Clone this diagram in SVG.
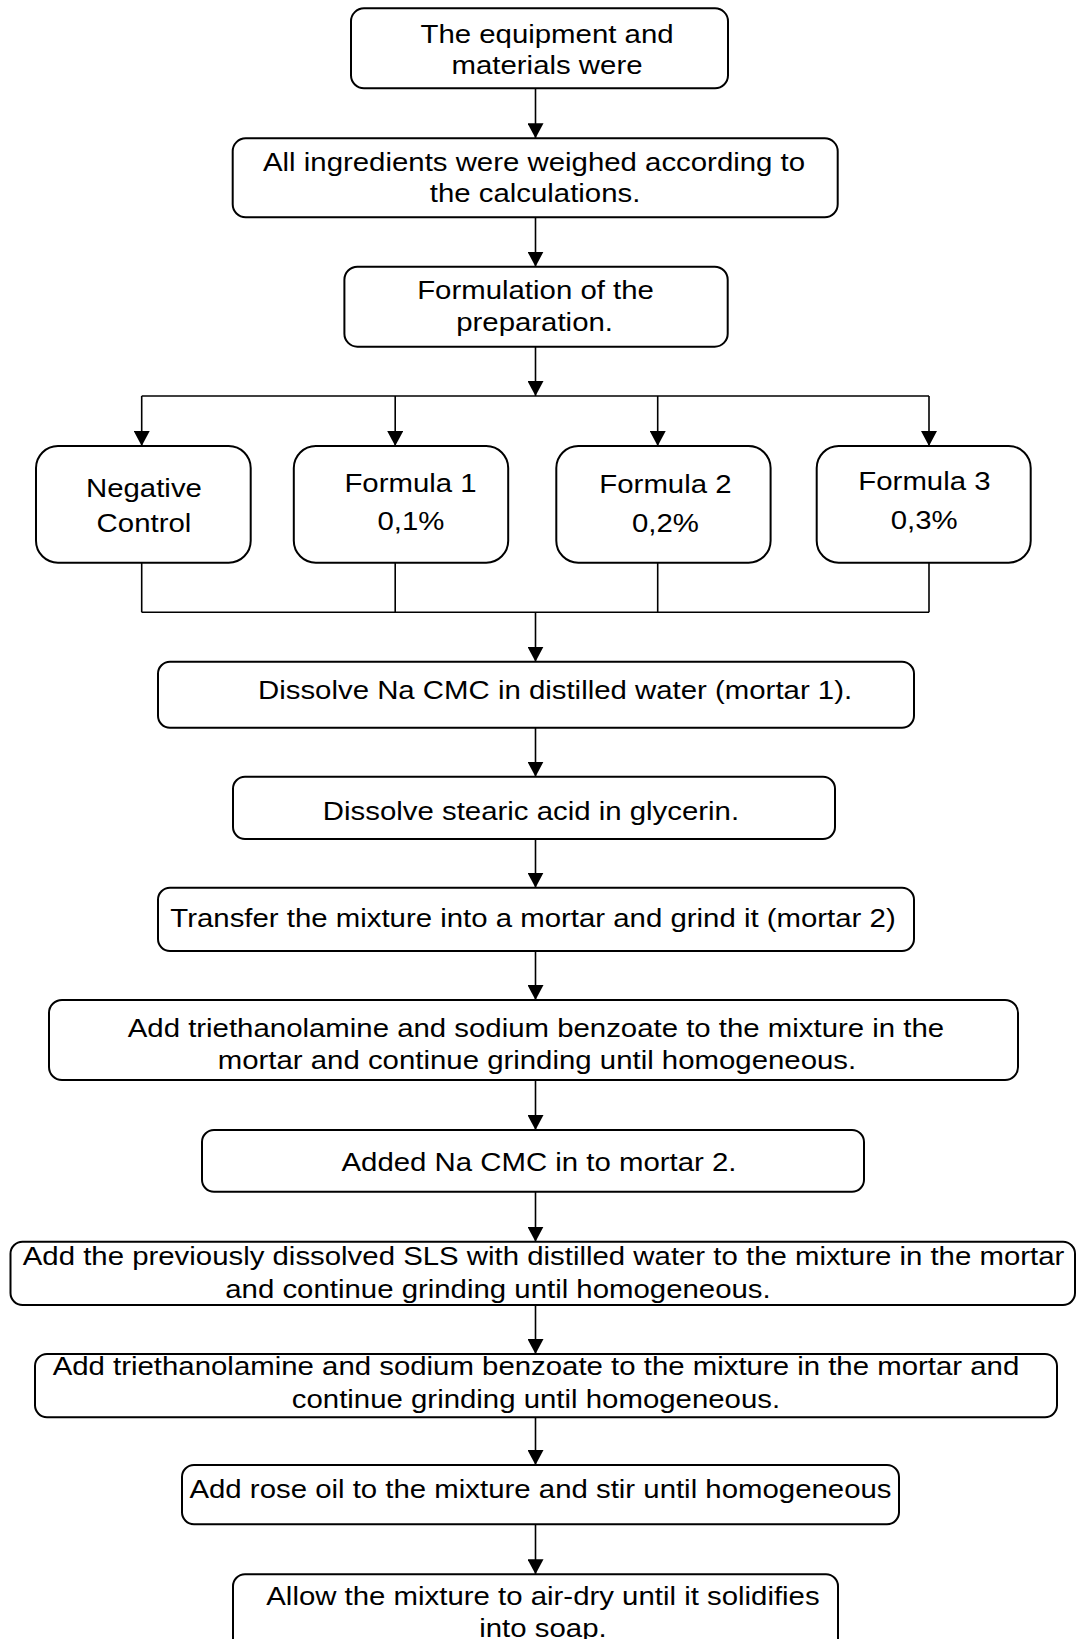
<svg xmlns="http://www.w3.org/2000/svg" width="1077" height="1639" viewBox="0 0 1077 1639">
<style>
.box{fill:#fff;stroke:#000;stroke-width:2}
.t{font-family:"Liberation Sans",Arial,sans-serif;font-size:26px;fill:#000;text-anchor:middle}
.c{fill:none;stroke:#000;stroke-width:1.6}
.a{fill:none;stroke:#000;stroke-width:1.6;marker-end:url(#ah)}
</style>
<defs>
<marker id="ah" markerUnits="userSpaceOnUse" markerWidth="16" markerHeight="16" viewBox="0 0 16 16" refX="15" refY="8" orient="auto">
<path d="M0,0 L15,8 L0,16 z" fill="#000"/>
</marker>
</defs>
<rect width="1077" height="1639" fill="#fff"/>
<g id="connectors">
<line class="a" x1="535.5" y1="88.3" x2="535.5" y2="138.3"/>
<line class="a" x1="535.5" y1="217.3" x2="535.5" y2="266.7"/>
<line class="a" x1="535.5" y1="346.7" x2="535.5" y2="396"/>
<line class="c" x1="141.7" y1="396" x2="929" y2="396"/>
<line class="a" x1="141.7" y1="396" x2="141.7" y2="446"/>
<line class="a" x1="395.2" y1="396" x2="395.2" y2="446"/>
<line class="a" x1="657.7" y1="396" x2="657.7" y2="446"/>
<line class="a" x1="929" y1="396" x2="929" y2="446"/>
<line class="c" x1="141.7" y1="562.7" x2="141.7" y2="612.3"/>
<line class="c" x1="395.2" y1="562.7" x2="395.2" y2="612.3"/>
<line class="c" x1="657.7" y1="562.7" x2="657.7" y2="612.3"/>
<line class="c" x1="929" y1="562.7" x2="929" y2="612.3"/>
<line class="c" x1="141.7" y1="612.3" x2="929" y2="612.3"/>
<line class="a" x1="535.5" y1="612.3" x2="535.5" y2="661.7"/>
<line class="a" x1="535.5" y1="727.7" x2="535.5" y2="776.7"/>
<line class="a" x1="535.5" y1="839" x2="535.5" y2="887.7"/>
<line class="a" x1="535.5" y1="951" x2="535.5" y2="1000"/>
<line class="a" x1="535.5" y1="1080" x2="535.5" y2="1130"/>
<line class="a" x1="535.5" y1="1191.7" x2="535.5" y2="1241.7"/>
<line class="a" x1="535.5" y1="1305" x2="535.5" y2="1354"/>
<line class="a" x1="535.5" y1="1417.3" x2="535.5" y2="1465"/>
<line class="a" x1="535.5" y1="1524.3" x2="535.5" y2="1574.3"/>
</g>
<g id="n1"><rect class="box" x="351" y="8.3" width="377" height="80" rx="13"/>
<g transform="scale(1.13 1)"><text class="t" x="484.1" y="42.7">The equipment and</text><text class="t" x="484.1" y="74">materials were</text></g></g>
<g id="n2"><rect class="box" x="232.7" y="138.3" width="605" height="79" rx="13"/>
<g transform="scale(1.13 1)"><text class="t" x="472.6" y="171.5">All ingredients were weighed according to</text><text class="t" x="473.5" y="202.5">the calculations.</text></g></g>
<g id="n3"><rect class="box" x="344.4" y="266.7" width="383.3" height="80" rx="13"/>
<g transform="scale(1.13 1)"><text class="t" x="473.9" y="299.3">Formulation of the</text><text class="t" x="473.1" y="331.5">preparation.</text></g></g>
<g id="n4"><rect class="box" x="36" y="446" width="214.7" height="116.7" rx="22"/>
<g transform="scale(1.13 1)"><text class="t" x="127.4" y="497.3">Negative</text><text class="t" x="127.4" y="531.7">Control</text></g></g>
<g id="n5"><rect class="box" x="293.8" y="446" width="214.4" height="116.7" rx="22"/>
<g transform="scale(1.13 1)"><text class="t" x="363.3" y="491.7">Formula 1</text><text class="t" x="363.7" y="530">0,1%</text></g></g>
<g id="n6"><rect class="box" x="556.3" y="446" width="214.3" height="116.7" rx="22"/>
<g transform="scale(1.13 1)"><text class="t" x="588.9" y="493.3">Formula 2</text><text class="t" x="588.9" y="531.7">0,2%</text></g></g>
<g id="n7"><rect class="box" x="816.7" y="446" width="214" height="116.7" rx="22"/>
<g transform="scale(1.13 1)"><text class="t" x="818.1" y="490">Formula 3</text><text class="t" x="817.9" y="529.3">0,3%</text></g></g>
<g id="n8"><rect class="box" x="158" y="661.7" width="756" height="66" rx="12"/>
<g transform="scale(1.13 1)"><text class="t" x="491.2" y="699.3">Dissolve Na CMC in distilled water (mortar 1).</text></g></g>
<g id="n9"><rect class="box" x="233" y="776.7" width="602" height="62.3" rx="12"/>
<g transform="scale(1.13 1)"><text class="t" x="469.9" y="820">Dissolve stearic acid in glycerin.</text></g></g>
<g id="n10"><rect class="box" x="158" y="887.7" width="756" height="63.3" rx="12"/>
<g transform="scale(1.13 1)"><text class="t" x="471.7" y="927.3">Transfer the mixture into a mortar and grind it (mortar 2)</text></g></g>
<g id="n11"><rect class="box" x="49" y="1000" width="969" height="80" rx="13"/>
<g transform="scale(1.13 1)"><text class="t" x="474.3" y="1037.3">Add triethanolamine and sodium benzoate to the mixture in the</text><text class="t" x="475.2" y="1069.3">mortar and continue grinding until homogeneous.</text></g></g>
<g id="n12"><rect class="box" x="202" y="1130" width="662" height="61.7" rx="12"/>
<g transform="scale(1.13 1)"><text class="t" x="477" y="1170.7">Added Na CMC in to mortar 2.</text></g></g>
<g id="n13"><rect class="box" x="10.5" y="1241.7" width="1064.5" height="63.3" rx="12"/>
<g transform="scale(1.13 1)"><text class="t" x="481" y="1265">Add the previously dissolved SLS with distilled water to the mixture in the mortar</text><text class="t" x="440.7" y="1298.3">and continue grinding until homogeneous.</text></g></g>
<g id="n14"><rect class="box" x="35" y="1354" width="1022" height="63.3" rx="12"/>
<g transform="scale(1.13 1)"><text class="t" x="474.3" y="1375">Add triethanolamine and sodium benzoate to the mixture in the mortar and</text><text class="t" x="474.3" y="1408.3">continue grinding until homogeneous.</text></g></g>
<g id="n15"><rect class="box" x="182" y="1465" width="717" height="59.3" rx="12"/>
<g transform="scale(1.13 1)"><text class="t" x="478.3" y="1498.3">Add rose oil to the mixture and stir until homogeneous</text></g></g>
<g id="n16"><rect class="box" x="233" y="1574.3" width="605" height="90" rx="12"/>
<g transform="scale(1.13 1)"><text class="t" x="480.5" y="1605">Allow the mixture to air-dry until it solidifies</text><text class="t" x="480.5" y="1636.7">into soap.</text></g></g>
</svg>
